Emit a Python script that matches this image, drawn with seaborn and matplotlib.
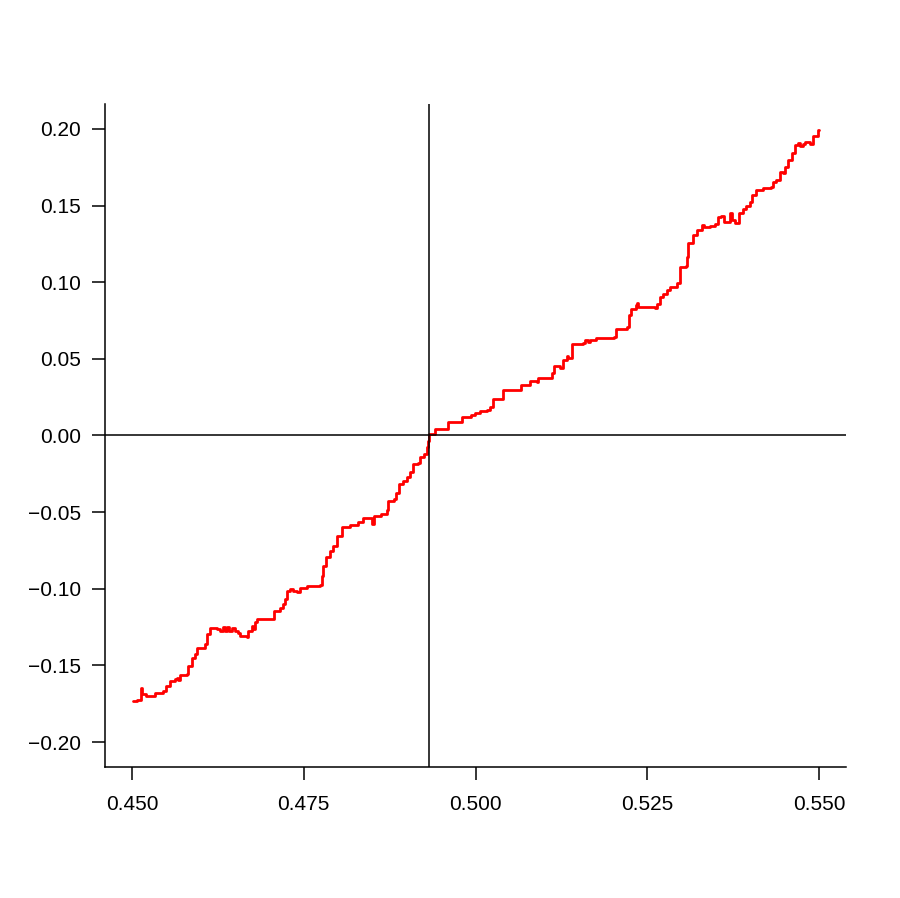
import numpy as np
import pandas as pd
import seaborn as sns
import matplotlib
matplotlib.use('Agg')
import matplotlib.pyplot as plt

# values
x_vals = [0.4501, 0.4507, 0.4512, 0.4513, 0.4514, 0.4521, 0.4531, 0.4533, 0.4545, 0.4549,
          0.4555, 0.4563, 0.4565, 0.4567, 0.4570, 0.4580, 0.4582, 0.4587, 0.4592, 0.4595,
          0.4603, 0.4606, 0.4609, 0.4614, 0.4621, 0.4623, 0.4628, 0.4632, 0.4635, 0.4638,
          0.4641, 0.4646, 0.4650, 0.4654, 0.4657, 0.4667, 0.4669, 0.4674, 0.4676, 0.4679,
          0.4682, 0.4705, 0.4707, 0.4715, 0.4720, 0.4722, 0.4725, 0.4730, 0.4734, 0.4740,
          0.4745, 0.4754, 0.4773, 0.4776, 0.4778, 0.4783, 0.4788, 0.4793, 0.4798, 0.4805,
          0.4815, 0.4817, 0.4829, 0.4836, 0.4846, 0.4849, 0.4852, 0.4863, 0.4871, 0.4873,
          0.4881, 0.4884, 0.4888, 0.4894, 0.4900, 0.4905, 0.4909, 0.4917, 0.4919, 0.4925,
          0.4929, 0.4931, 0.4932, 0.4933, 0.4941, 0.4958, 0.4960, 0.4977, 0.4980, 0.4994,
          0.4999, 0.5007, 0.5016, 0.5021, 0.5025, 0.5038, 0.5040, 0.5064, 0.5066, 0.5078,
          0.5080, 0.5089, 0.5091, 0.5108, 0.5111, 0.5114, 0.5122, 0.5123, 0.5127, 0.5133,
          0.5135, 0.5140, 0.5141, 0.5157, 0.5159, 0.5164, 0.5167, 0.5176, 0.5202, 0.5204,
          0.5220, 0.5224, 0.5226, 0.5234, 0.5235, 0.5237, 0.5261, 0.5264, 0.5269, 0.5273,
          0.5279, 0.5283, 0.5294, 0.5298, 0.5306, 0.5308, 0.5310, 0.5316, 0.5322, 0.5329,
          0.5332, 0.5341, 0.5349, 0.5353, 0.5358, 0.5361, 0.5368, 0.5370, 0.5374, 0.5378,
          0.5381, 0.5384, 0.5390, 0.5394, 0.5399, 0.5403, 0.5409, 0.5419, 0.5430, 0.5433,
          0.5438, 0.5443, 0.5448, 0.5450, 0.5455, 0.5460, 0.5465, 0.5470, 0.5473, 0.5477,
          0.5480, 0.5487, 0.5491, 0.5499, 0.5500]
y_vals = [-0.1732, -0.1725, -0.1725, -0.1647, -0.1686, -0.1699, -0.1699, -0.1678, -0.1667, -0.1634,
          -0.1601, -0.1588, -0.1582, -0.1595, -0.1562, -0.1554, -0.1503, -0.1449, -0.1425, -0.1384,
          -0.1384, -0.1358, -0.1294, -0.1253, -0.1253, -0.1261, -0.1275, -0.1248, -0.1275, -0.1248,
          -0.1275, -0.1255, -0.1275, -0.1286, -0.1307, -0.1314, -0.1275, -0.1242, -0.1261, -0.1220,
          -0.1196, -0.1196, -0.1144, -0.1126, -0.1098, -0.1065, -0.1013, -0.1002, -0.1013, -0.1024,
          -0.0995, -0.0985, -0.0976, -0.0915, -0.0850, -0.0795, -0.0752, -0.0719, -0.0654, -0.0599,
          -0.0595, -0.0582, -0.0567, -0.0538, -0.0538, -0.0577, -0.0523, -0.0512, -0.0486, -0.0425,
          -0.0414, -0.0377, -0.0316, -0.0294, -0.0268, -0.0240, -0.0185, -0.0181, -0.0142, -0.0120,
          -0.0076, -0.0033, 0.0000, 0.0011, 0.0044, 0.0044, 0.0087, 0.0087, 0.0120, 0.0131,
          0.0146, 0.0163, 0.0168, 0.0185, 0.0240, 0.0240, 0.0299, 0.0294, 0.0331, 0.0331,
          0.0353, 0.0348, 0.0375, 0.0375, 0.0407, 0.0451, 0.0451, 0.0438, 0.0490, 0.0516,
          0.0503, 0.0534, 0.0599, 0.0603, 0.0621, 0.0610, 0.0621, 0.0639, 0.0643, 0.0697,
          0.0708, 0.0784, 0.0828, 0.0850, 0.0863, 0.0840, 0.0835, 0.0861, 0.0904, 0.0926,
          0.0948, 0.0969, 0.0992, 0.1100, 0.1105, 0.1165, 0.1253, 0.1307, 0.1340, 0.1373,
          0.1358, 0.1366, 0.1379, 0.1427, 0.1431, 0.1394, 0.1394, 0.1449, 0.1405, 0.1388,
          0.1388, 0.1453, 0.1475, 0.1497, 0.1525, 0.1569, 0.1601, 0.1612, 0.1623, 0.1656,
          0.1667, 0.1721, 0.1710, 0.1754, 0.1797, 0.1841, 0.1895, 0.1907, 0.1889, 0.1902,
          0.1917, 0.1902, 0.1954, 0.1993, 0.1993]

x_cross = 0.4933     # vertical reference line
x_ticks = [0.450, 0.475, 0.500, 0.525, 0.550]
y_ticks = [-0.20, -0.15, -0.10, -0.05, 0.00, 0.05, 0.10, 0.15, 0.20]

df = pd.DataFrame({'x': x_vals, 'y': y_vals})

sns.set_style('white')
plt.rcParams['font.family'] = ['Liberation Sans', 'DejaVu Sans']

fig = plt.figure(figsize=(9, 8.98), dpi=100)
ax = fig.add_axes([0.1167, 0.1459, 0.8233, 0.7383])

sns.lineplot(data=df, x='x', y='y', color='red', linewidth=2.0, sort=False,
             estimator=None, drawstyle='steps-post', ax=ax)
ax.axvline(x_cross, color='black', linewidth=1.1)
ax.axhline(0, color='black', linewidth=1.1)

ax.set_xlim(0.44607, 0.55393)
ax.set_ylim(-0.2163, 0.2163)
ax.set_xticks(x_ticks)
ax.set_xticklabels([f'{v:.3f}' for v in x_ticks])
ax.set_yticks(y_ticks)
ax.set_yticklabels([f'{v:.2f}'.replace('-', '\u2212') for v in y_ticks])
ax.set_xlabel('')
ax.set_ylabel('')

for side in ['top', 'right']:
    ax.spines[side].set_visible(False)
for side in ['left', 'bottom']:
    ax.spines[side].set_color('black')
    ax.spines[side].set_linewidth(1.1)

ax.tick_params(axis='x', direction='out', length=9.5, width=1.1, color='black',
               pad=11, labelsize=15, labelcolor='black', bottom=True)
ax.tick_params(axis='y', direction='out', length=9.5, width=1.1, color='black',
               pad=8, labelsize=15, labelcolor='black', left=True)

fig.savefig('out.png', dpi=100)
